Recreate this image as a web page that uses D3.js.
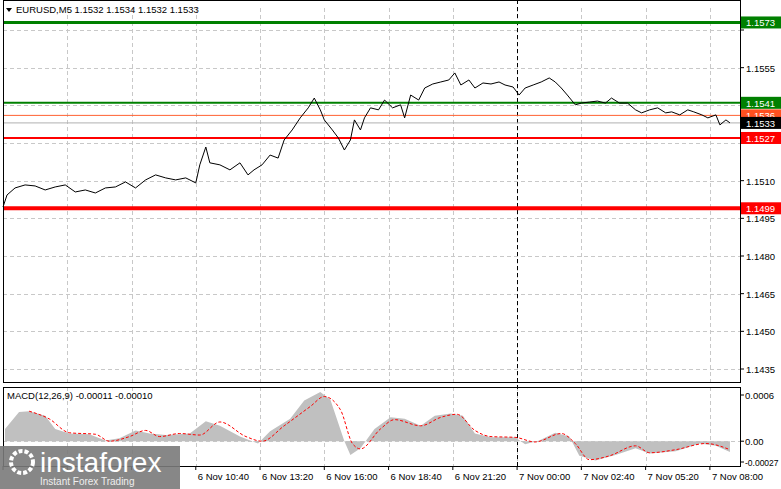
<!DOCTYPE html>
<html><head><meta charset="utf-8">
<script src="https://cdn.jsdelivr.net/npm/d3@7"></script>
<style>body{margin:0;background:#fff}svg{display:block;font-family:"Liberation Sans",Arial,sans-serif}</style>
</head><body><svg id="c" width="781" height="489"></svg>
<script>
const priceIdx=[0,2,6,11,16,21,26,31,36,41,46,51,56,61,66,71,76,81,86,91,96,98,101,103,108,113,118,122,125,129,133,137,140,144,148,152,155,158,160,164,167,170,173,175,178,180,183,187,190,194,198,200,203,207,210,214,218,222,225,228,232,235,239,243,247,250,254,257,260,264,268,272,275,278,281,285,288,292,296,300,303,307,311,315,318,322,326,330,333,337,341,344,348,351,355,357,360,362];
const priceVal=[1.14995,1.15043,1.15071,1.15083,1.15079,1.15063,1.15075,1.15083,1.15055,1.15063,1.15051,1.15071,1.15075,1.15095,1.15071,1.15103,1.15123,1.15111,1.15103,1.15111,1.15091,1.15163,1.15234,1.15171,1.15163,1.15143,1.15171,1.15123,1.15143,1.15163,1.15202,1.15190,1.15262,1.15302,1.15350,1.15390,1.15429,1.15382,1.15342,1.15302,1.15270,1.15222,1.15262,1.15342,1.15302,1.15350,1.15390,1.15382,1.15421,1.15390,1.15402,1.15350,1.15441,1.15421,1.15469,1.15485,1.15493,1.15501,1.15529,1.15481,1.15501,1.15469,1.15489,1.15485,1.15493,1.15481,1.15473,1.15441,1.15469,1.15481,1.15493,1.15509,1.15493,1.15469,1.15441,1.15402,1.15409,1.15413,1.15417,1.15409,1.15429,1.15409,1.15409,1.15382,1.15370,1.15382,1.15390,1.15370,1.15374,1.15362,1.15382,1.15374,1.15362,1.15350,1.15362,1.15322,1.15342,1.15330];
const histIdx=[1,8,13,21,26,33,43,51,58,66,73,81,93,101,108,118,127,133,143,150,158,163,170,173,178,185,193,200,208,215,223,229,235,243,255,260,267,275,282,287,295,305,315,322,335,347,355,362];
const histVal=[0.00016,0.00038,0.00039,0.00033,0.00016,0.00010,0.00009,0.00001,0.00004,0.00014,0.00010,0.00008,0.00010,0.00026,0.00020,0.00006,-0.00003,0.00013,0.00029,0.00053,0.00064,0.00054,0.00000,-0.00018,-0.00009,0.00016,0.00031,0.00029,0.00020,0.00033,0.00036,0.00033,0.00010,0.00005,0.00005,-0.00004,0.00001,0.00011,0.00006,-0.00019,-0.00025,-0.00018,-0.00009,-0.00016,-0.00013,-0.00003,-0.00006,-0.00014];
const sigIdx=[13,23,33,46,53,63,71,78,88,98,108,121,129,140,153,160,168,174,178,188,195,208,218,226,235,243,255,265,278,285,292,302,315,322,335,350,362];
const sigVal=[0.00039,0.00029,0.00011,0.00009,0.00000,0.00006,0.00014,0.00006,0.00010,0.00008,0.00025,0.00006,0.00000,0.00020,0.00045,0.00058,0.00041,-0.00003,-0.00010,0.00016,0.00028,0.00020,0.00031,0.00035,0.00014,0.00006,0.00005,-0.00001,0.00010,-0.00003,-0.00024,-0.00019,-0.00006,-0.00015,-0.00011,-0.00003,-0.00011];
const tickIdx=[0,32,64,96,128,160,192,224,256,288,320,352];
const tickLabels=["6 Nov 2025","6 Nov 05:20","6 Nov 08:00","6 Nov 10:40","6 Nov 13:20","6 Nov 16:00","6 Nov 18:40","6 Nov 21:20","7 Nov 00:00","7 Nov 02:40","7 Nov 05:20","7 Nov 08:00"];
const priceTicks=[1.1570,1.1555,1.1540,1.1525,1.1510,1.1495,1.1480,1.1465,1.1450,1.1435];
const levels=[{v:1.1573,c:"#008000",w:3,t:"1.1573"},{v:1.1541,c:"#008000",w:2,t:"1.1541"},{v:1.1527,c:"#ff0000",w:2,t:"1.1527"},{v:1.1499,c:"#ff0000",w:4,t:"1.1499"}];
const macdTicks=[0.0006,0,-0.00027];

const svg=d3.select("#c");
const L=3,R=740,T=8,B=382,MT=387,MB=466;
const x=d3.scaleLinear().domain([0,367]).range([L,R]);
const y=d3.scaleLinear().domain([1.1570,1.1435]).range([30,369]);
const ym=d3.scaleLinear().domain([0.0006,-0.00027]).range([395,462]);

const g=svg.append("g").attr("stroke","#c8c8c8").attr("stroke-dasharray","4,3");
priceTicks.forEach(p=>g.append("line").attr("x1",L).attr("x2",R).attr("y1",Math.round(y(p))+.5).attr("y2",Math.round(y(p))+.5));
tickIdx.slice(1).forEach(t=>{
  const xx=Math.round(x(t))+.5;
  g.append("line").attr("x1",xx).attr("x2",xx).attr("y1",T).attr("y2",B);
  g.append("line").attr("x1",xx).attr("x2",xx).attr("y1",MT).attr("y2",MB);
});
const x0=Math.round(x(256))+.5;
svg.append("line").attr("x1",x0).attr("x2",x0).attr("y1",0).attr("y2",MB).attr("stroke","#000").attr("stroke-dasharray","4,3");
svg.append("line").attr("x1",L).attr("x2",R).attr("y1",Math.round(ym(0))+.5).attr("y2",Math.round(ym(0))+.5).attr("stroke","#c8c8c8").attr("stroke-dasharray","4,3");

svg.append("line").attr("x1",L).attr("x2",R).attr("y1",y(1.1536)).attr("y2",y(1.1536)).attr("stroke","#ff6030");
svg.append("line").attr("x1",L).attr("x2",R).attr("y1",y(1.1533)).attr("y2",y(1.1533)).attr("stroke","#b0b0b0");
levels.forEach(l=>svg.append("line").attr("x1",L).attr("x2",R).attr("y1",y(l.v)).attr("y2",y(l.v)).attr("stroke",l.c).attr("stroke-width",l.w));

const pdata=priceIdx.map((d,i)=>[d,priceVal[i]]);
svg.append("path").attr("d",d3.line().x(d=>x(d[0])).y(d=>y(d[1]))(pdata)).attr("fill","none").attr("stroke","#000");

const hdata=histIdx.map((d,i)=>[d,histVal[i]]);
svg.append("path").attr("d",d3.area().x(d=>x(d[0])).y0(ym(0)).y1(d=>ym(d[1]))(hdata)).attr("fill","#c0c0c0");
const sdata=sigIdx.map((d,i)=>[d,sigVal[i]]);
svg.append("path").attr("d",d3.line().x(d=>x(d[0])).y(d=>ym(d[1])).curve(d3.curveMonotoneX)(sdata)).attr("fill","none").attr("stroke","#ff0000").attr("stroke-dasharray","3,2");

svg.append("rect").attr("x",L+.5).attr("y",.5).attr("width",R-L).attr("height",B).attr("fill","none").attr("stroke","#000");
svg.append("rect").attr("x",L+.5).attr("y",MT+.5).attr("width",R-L).attr("height",MB-MT).attr("fill","none").attr("stroke","#000");

const tags=[...levels.map(l=>({v:l.v,c:l.c,t:l.t})),{v:1.1536,c:"#ff5020",t:"1.1536"},{v:1.1533,c:"#000",t:"1.1533"}];
const ax=svg.append("g").attr("font-size",9.5).attr("fill","#000");
priceTicks.forEach(p=>{
  ax.append("line").attr("x1",R).attr("x2",R+4).attr("y1",y(p)).attr("y2",y(p)).attr("stroke","#000");
  if(tags.some(t=>Math.abs(y(t.v)-y(p))<10)) return;
  ax.append("text").attr("x",R+6).attr("y",y(p)+4).text(p.toFixed(4));
});
macdTicks.forEach(p=>{
  ax.append("line").attr("x1",R).attr("x2",R+4).attr("y1",ym(p)).attr("y2",ym(p)).attr("stroke","#000");
  ax.append("text").attr("x",R+5).attr("y",ym(p)+4).attr("font-size",p<0?8.5:9.5).text(p===0?"0.00":(p>0?p.toFixed(4):p.toFixed(5)));
});
tags.forEach(l=>{
  ax.append("rect").attr("x",R+1).attr("y",y(l.v)-6).attr("width",40).attr("height",12).attr("fill",l.c);
  ax.append("text").attr("x",R+6).attr("y",y(l.v)+4).attr("fill","#fff").text(l.t);
});

tickIdx.forEach((t,i)=>{
  svg.append("line").attr("x1",x(t)).attr("x2",x(t)).attr("y1",MB).attr("y2",MB+4).attr("stroke","#000");
  if(t<96) return; // hidden under watermark
  svg.append("text").attr("x",x(t)+2).attr("y",480).attr("font-size",9.5).text(tickLabels[i]);
});

svg.append("path").attr("d","M6,8 L12,8 L9,12 Z").attr("fill","#000");
svg.append("text").attr("x",16).attr("y",13).attr("font-size",9.5).text("EURUSD,M5  1.1532 1.1534 1.1532 1.1533");
svg.append("text").attr("x",7).attr("y",399).attr("font-size",9.5).text("MACD(12,26,9) -0.00011 -0.00010");

const wm=svg.append("g");
wm.append("rect").attr("x",0).attr("y",446).attr("width",180).attr("height",43).attr("fill","#7a7a7a").attr("opacity",0.9);
wm.append("circle").attr("cx",22).attr("cy",462).attr("r",11).attr("fill","none").attr("stroke","#fff").attr("stroke-width",4).attr("stroke-dasharray","4,2");
wm.append("text").attr("x",40).attr("y",472).attr("font-size",28).attr("fill","#fff").text("instaforex");
wm.append("text").attr("x",40).attr("y",485).attr("font-size",10).attr("fill","#eee").text("Instant Forex Trading");
</script></body></html>
